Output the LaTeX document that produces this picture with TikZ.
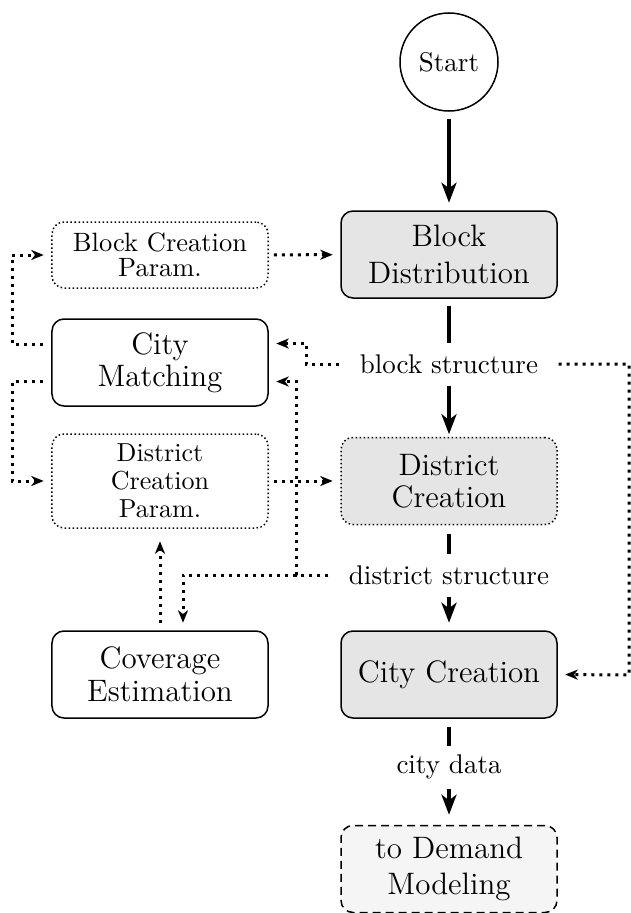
\documentclass[tikz,border=0pt]{standalone}
\usetikzlibrary{arrows.meta,calc}
\newcommand\labsize{\fontsize{10.8}{11}\selectfont}
\tikzset{
  x=0.4pt, y=-0.4pt,
  lines/.style={font=\fontsize{12.4}{#1}\selectfont},
  stage/.style={draw, line width=0.6pt, rounded corners=4.8pt, align=center,
    minimum width=86.4pt, minimum height=34.8pt, lines=12.7pt, inner sep=2pt},
  graystage/.style={stage, fill=gray!20},
  param/.style={stage, densely dotted},
  flowlab/.style={fill=white, font=\labsize, inner ysep=2pt, inner xsep=8pt,
    minimum height=16.8pt},
  flow/.style={line width=1.6pt, -{Stealth[length=8pt,width=6pt,inset=2.2pt]}},
  flowline/.style={line width=1.6pt},
  feed/.style={line width=1.2pt, dotted, -{Stealth[length=5pt,width=4pt,inset=1.5pt]},
    shorten >=3pt},
}
\begin{document}
\begin{tikzpicture}
\useasboundingbox (0,0) rectangle (631,913);

% main chain
\node[draw, circle, line width=0.6pt, minimum size=39.2pt, font=\labsize] (start) at (449,62) {Start};
\node[graystage, lines=14.7pt] (bd) at (449,254.5) {Block\\Distribution};
\node[graystage, densely dotted] (dc) at (449,481) {District\\Creation};
\node[graystage] (cc) at (449,674.5) {City Creation};
\node[stage, dashed, dash pattern=on 3.2pt off 2pt, fill=gray!8, lines=14.7pt] (dm) at (449,869) {to Demand\\Modeling};

% side boxes
\node[param, minimum height=26.4pt, font=\fontsize{10.6}{10}\selectfont] (bcp) at (160,255) {Block Creation\\Param.};
\node[stage] (cm) at (160,362.5) {City\\Matching};
\node[param, minimum height=37.6pt, font=\fontsize{10.4}{11.3}\selectfont] (dcp) at (160,481) {District\\Creation\\Param.};
\node[stage, lines=13.3pt] (ce) at (160,674.5) {Coverage\\Estimation};

% data labels
\node[flowlab] (lbs) at (449,364) {block structure};
\node[flowlab] (lds) at (449,575) {district structure};
\node[flowlab] (lcd) at (449,767) {city data};

% junction points of the feedback lines
\coordinate (rr) at (629,675);
\coordinate (j1) at (306,364);
\coordinate (j2) at (296,575);

% thick data flow
\draw[flow, shorten <=3pt, shorten >=3pt] (start) -- (bd);
\draw[flowline, shorten <=3pt] (bd) -- (lbs);
\draw[flow, shorten >=1pt] (lbs) -- (dc);
\draw[flowline, shorten <=3.4pt] (dc) -- (lds);
\draw[flow, shorten >=3pt] (lds) -- (cc);
\draw[flowline, shorten <=3.4pt] (cc) -- (lcd);
\draw[flow, shorten >=4pt] (lcd) -- (dm);

% dotted parameter and feedback lines
\draw[feed, shorten <=2pt] (bcp) -- (bd);
\draw[feed, shorten <=2pt] (dcp) -- (dc);
\draw[feed, shorten <=3.4pt] ($(cm.west)+(0,-18)$) -- ++(-39,0) |- (bcp.west);
\draw[feed, shorten <=3.4pt] ($(cm.west)+(0,19)$) -- ++(-39,0) |- (dcp.west);
\draw[feed] (lbs.east) -| (rr) -- (cc.east);
\draw[feed] (lbs.west) -- (j1) |- ($(cm.east)+(0,-19)$);
\draw[feed] (lds.west) -- (j2) |- ($(cm.east)+(0,19)$);
\draw[feed] (lds.west) -| ($(ce.north)+(23,0)$);
\draw[feed, shorten <=3pt, shorten >=5pt] (ce) -- (dcp);
\end{tikzpicture}
\end{document}
